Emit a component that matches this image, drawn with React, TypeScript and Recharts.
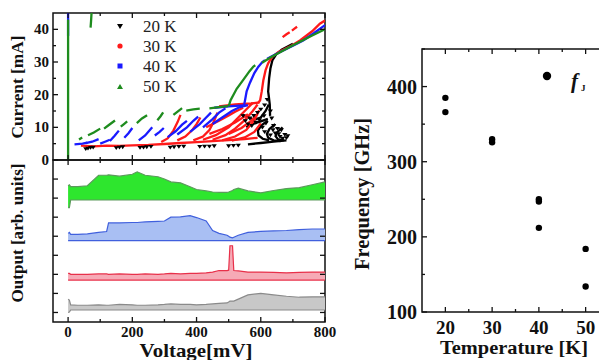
import React from "react";
import { ComposedChart, Line, Area, Scatter, XAxis, YAxis, ReferenceArea } from "recharts";

const SERIF = "'Liberation Serif', 'Times New Roman', serif";

// I-V branches, [voltage mV, current mA]
const iv20: number[][][] = [
  [[560, 4.8], [600, 5.2], [640, 5.6], [680, 6]],
  [[540, 14], [560, 13], [580, 12.4], [600, 13], [615, 15], [625, 17]],
  [[555, 10], [580, 11.2], [600, 11.8], [622, 12.6]],
  [[622, 12], [602, 10.6], [591, 9], [593, 7.5], [606, 6.5], [626, 6]],
  [[645, 11], [627, 9.5], [619, 8], [623, 6.8], [640, 6], [662, 5.8]],
  [[668, 10], [652, 8.6], [646, 7.3], [654, 6.3], [672, 6]],
  [[629, 13.5], [628, 17], [625, 19.5], [623, 21], [626, 25], [630, 28], [636, 30.5], [648, 32.3], [665, 33.8], [700, 35.6]],
];
// scattered 20 K points (low-current trail and the hysteresis cloud)
const iv20Dots: number[][] = [
  [55, 3.4], [62, 3.6], [70, 3.8], [78, 3.9], [150, 3.7], [160, 3.9], [170, 4], [224, 3.8], [235, 3.9], [245, 4],
  [258, 4.1], [318, 3.9], [330, 4], [345, 4.1], [360, 4.2], [410, 4.1], [425, 4.2], [440, 4.2], [455, 4.3], [500, 4.3],
  [515, 4.4], [530, 4.5], [545, 13.5], [552, 12], [560, 11], [566, 12.8], [572, 10.5], [578, 13.6], [585, 11.5],
  [590, 14.5], [596, 12.2], [600, 15.5], [605, 10], [610, 13.5], [612, 16.8], [616, 11.2], [620, 18.5], [630, 15],
  [634, 12.8], [640, 10.5], [645, 8.2], [652, 9.6], [660, 7.2], [668, 6.6], [675, 7.8], [680, 6.8],
  [612, 8.6], [630, 7.6], [638, 9.2], [656, 8], [664, 9.2], [684, 7.4],
];

const iv30: number[][][] = [
  [[40, 4.4], [80, 4.2], [120, 4.4], [160, 4.3], [200, 4.5], [250, 4.6], [300, 4.9], [350, 5.2], [400, 5.5], [450, 5.8], [500, 6.1], [550, 6.4], [590, 6.8]],
  [[290, 5.5], [310, 6.6], [328, 9], [341, 11.6], [350, 13.8]],
  [[340, 6], [365, 7.2], [385, 9], [400, 11], [412, 13]],
  [[390, 6], [420, 7.2], [440, 9.2], [455, 12], [465, 14.5]],
  [[420, 6.2], [460, 7.6], [500, 10], [530, 13], [560, 16], [575, 17.5]],
  [[440, 8], [480, 9.5], [520, 11.5], [560, 14]],
  [[450, 6.2], [490, 7.6], [520, 9.6], [550, 12.2], [575, 15], [590, 17]],
  [[500, 8], [540, 9.8], [570, 12], [590, 14]],
  [[480, 6], [520, 7.2], [555, 9.2], [580, 12.2], [595, 15.2]],
  [[510, 5.9], [550, 6.9], [580, 8.6], [600, 11.2]],
  [[430, 10], [470, 12], [500, 13.6], [520, 14.8], [545, 16]],
  [[470, 16.4], [520, 17], [570, 17.3], [595, 17.6]],
  [[592, 17.4], [598, 18.3], [603, 21], [608, 24.4], [615, 27.5], [623, 29.6], [635, 31.5], [654, 33], [690, 34.7], [722, 36.6], [760, 39.4], [784, 41.7], [800, 42.7]],
  [[668, 37.6], [680, 38.5], [690, 39.1]],
  [[697, 39.6], [705, 40.2], [713, 40.8]],
];

const iv40: number[][][] = [
  [[0, 38], [0, 45]],
  [[20, 4.8], [45, 5], [60, 5.3]],
  [[55, 5.2], [75, 5.6], [95, 6.4]],
  [[100, 5], [115, 5.6], [130, 6.2]],
  [[130, 5.8], [145, 7.4], [158, 9]],
  [[175, 6.8], [188, 8.2], [200, 9.8]],
  [[220, 6], [240, 7.5], [262, 10]],
  [[270, 7.5], [285, 8.6], [298, 9.8]],
  [[310, 7], [335, 8.8], [355, 10.8], [370, 12]],
  [[340, 7.8], [370, 10], [390, 12], [405, 13.3]],
  [[380, 8.6], [410, 11], [430, 13], [445, 14.5]],
  [[420, 10], [450, 12.5], [470, 14.5], [490, 15.8]],
  [[450, 11], [480, 13], [510, 15], [535, 16.2], [560, 16.8]],
  [[455, 16], [500, 16.4], [545, 16.7]],
  [[548, 16.8], [551, 18.3], [556, 21], [566, 23.6], [580, 26.6], [592, 28.5], [605, 30], [613, 30.6]],
  [[620, 31], [645, 32.3], [670, 33.5], [700, 35], [732, 36.6], [765, 38.8], [800, 41.3]],
];

const iv50: number[][][] = [
  [[0, 0], [0, 43]],
  [[70, 40.5], [71.5, 42.5], [73, 45]],
  [[34, 6.3], [44, 6.9]],
  [[62, 7.6], [80, 8.4], [100, 9.6]],
  [[112, 9.6], [128, 10.8], [146, 12.1]],
  [[164, 10.2], [174, 11], [184, 11.8]],
  [[214, 11.3], [230, 12.7], [246, 13.7]],
  [[278, 12.2], [288, 13.4], [296, 14.6]],
  [[328, 13.8], [342, 14.9], [355, 15.9]],
  [[368, 15.1], [390, 15.5], [410, 15.7]],
  [[440, 15.8], [470, 16.2], [498, 16.5]],
  [[500, 16.4], [506, 18.3], [525, 21.8], [546, 24.6], [565, 27.2], [577, 28.6], [583, 29]],
  [[604, 29.8], [630, 31.4], [660, 33], [690, 34.6], [722, 36.2], [760, 38.1], [800, 40]],
];

const ivSeries = [
  { name: "20 K", color: "#000000", branches: iv20 },
  { name: "30 K", color: "#ff1a1a", branches: iv30 },
  { name: "40 K", color: "#1a1aff", branches: iv40 },
  { name: "50 K", color: "#1e8c1e", branches: iv50 },
];

// output traces (arb. units, stacked), sampled on a common voltage grid
const outV = [0, 4, 8, 30, 60, 95, 120, 126, 160, 200, 215, 240, 280, 300, 320, 350, 380, 400, 430, 450, 470, 495, 500, 504, 512, 516, 530, 560, 600, 640, 680, 720, 760, 800];
const greenLo = [6.0, 6.0, 6.4, 6.4, 6.4, 6.4, 6.4, 6.4, 6.4, 6.4, 6.4, 6.4, 6.4, 6.4, 6.4, 6.4, 6.4, 6.4, 6.4, 6.4, 6.4, 6.4, 6.4, 6.4, 6.4, 6.4, 6.4, 6.4, 6.4, 6.4, 6.4, 6.4, 6.4, 6.4];
const greenHi = [7.15, 7.2, 7.1, 7.1, 7.15, 7.7, 7.7, 7.72, 7.65, 7.75, 7.88, 7.7, 7.62, 7.5, 7.35, 7.3, 7.1, 6.95, 6.88, 6.82, 6.8, 6.8, 6.82, 6.85, 6.9, 6.95, 7.02, 6.88, 6.78, 6.9, 7.0, 7.05, 7.2, 7.35];
const blueLo = [4.27, 4.27, 4.27, 4.27, 4.27, 4.27, 4.27, 4.27, 4.27, 4.27, 4.27, 4.27, 4.27, 4.27, 4.27, 4.27, 4.27, 4.27, 4.27, 4.27, 4.27, 4.27, 4.27, 4.27, 4.27, 4.27, 4.27, 4.27, 4.27, 4.27, 4.27, 4.27, 4.27, 4.27];
const blueHi = [4.65, 4.7, 4.6, 4.6, 4.62, 4.7, 4.75, 5.2, 5.2, 5.22, 5.22, 5.25, 5.28, 5.3, 5.5, 5.52, 5.58, 5.48, 5.3, 4.8, 4.65, 4.55, 4.5, 4.45, 4.42, 4.45, 4.55, 4.7, 4.75, 4.78, 4.8, 4.85, 4.88, 4.88];
const redLo = [2.2, 2.2, 2.2, 2.2, 2.2, 2.2, 2.2, 2.2, 2.2, 2.2, 2.2, 2.2, 2.2, 2.2, 2.2, 2.2, 2.2, 2.2, 2.2, 2.2, 2.2, 2.2, 2.2, 2.2, 2.2, 2.2, 2.2, 2.2, 2.2, 2.2, 2.2, 2.2, 2.2, 2.2];
const redHi = [2.55, 2.55, 2.5, 2.5, 2.5, 2.52, 2.52, 2.5, 2.52, 2.5, 2.5, 2.52, 2.5, 2.52, 2.55, 2.52, 2.55, 2.55, 2.58, 2.62, 2.7, 2.7, 2.72, 4.0, 4.0, 2.7, 2.68, 2.62, 2.62, 2.6, 2.58, 2.6, 2.62, 2.62];
const grayLo = [0.5, 0.52, 0.63, 0.63, 0.63, 0.63, 0.63, 0.63, 0.63, 0.63, 0.63, 0.63, 0.63, 0.63, 0.63, 0.63, 0.63, 0.63, 0.63, 0.63, 0.63, 0.63, 0.63, 0.63, 0.63, 0.63, 0.63, 0.63, 0.63, 0.63, 0.63, 0.63, 0.63, 0.63];
const grayHi = [1.2, 1.15, 0.9, 0.88, 0.88, 0.9, 0.88, 0.88, 0.92, 0.9, 0.88, 0.88, 0.9, 0.92, 0.95, 0.92, 0.92, 0.9, 0.92, 0.95, 0.98, 1.0, 1.05, 1.1, 1.1, 1.1, 1.2, 1.42, 1.5, 1.42, 1.35, 1.3, 1.32, 1.32];

// Josephson frequency vs temperature
const fjT = [20, 20, 30, 30, 40, 40, 40, 50, 50];
const fjF = [385, 366, 330, 326, 250, 247, 212, 184, 134];

const voltTicks = [0, 100, 200, 300, 400, 500, 600, 700, 800];
const currentTicks = [0, 5, 10, 15, 20, 25, 30, 35, 40];
const outTicks = [0.5, 1.5, 2.5, 3.5, 4.5, 5.5, 6.5, 7.5];
const tempTicks = [20, 25, 30, 35, 40, 45, 50, 55];
const freqTicks = [100, 150, 200, 250, 300, 350, 400, 450];

const outRows = outV.map((v, i) => ({
  v,
  g: [greenLo[i], greenHi[i]],
  b: [blueLo[i], blueHi[i]],
  r: [redLo[i], redHi[i]],
  k: [grayLo[i], grayHi[i]],
}));
const fjPoints = fjT.map((t, i) => ({ t, f: fjF[i] }));

type TickOpts = {
  far: number;
  isMajor: (v: number) => boolean;
  label: boolean;
  fontSize: number;
  gap: number;
};

const tickLine = { stroke: "#111", strokeWidth: 1.3 };

function bottomTick(o: TickOpts) {
  return (p: any) => {
    const v = p.payload.value as number;
    const major = o.isMajor(v);
    const len = major ? 5 : 3;
    return (
      <g>
        <line x1={p.x} x2={p.x} y1={p.y} y2={p.y - len} {...tickLine} />
        <line x1={p.x} x2={p.x} y1={o.far} y2={o.far + len} {...tickLine} />
        {o.label && major ? (
          <text x={p.x} y={p.y + o.gap} textAnchor="middle" fontFamily={SERIF} fontWeight="bold" fontSize={o.fontSize} fill="#111">
            {v}
          </text>
        ) : null}
      </g>
    );
  };
}

function leftTick(o: TickOpts) {
  return (p: any) => {
    const v = p.payload.value as number;
    const major = o.isMajor(v);
    const len = major ? 5 : 3;
    return (
      <g>
        <line x1={p.x} x2={p.x + len} y1={p.y} y2={p.y} {...tickLine} />
        <line x1={o.far} x2={o.far - len} y1={p.y} y2={p.y} {...tickLine} />
        {o.label && major ? (
          <text x={p.x - o.gap} y={p.y} dominantBaseline="central" textAnchor="end" fontFamily={SERIF} fontWeight="bold" fontSize={o.fontSize} fill="#111">
            {v}
          </text>
        ) : null}
      </g>
    );
  };
}

function IvPanel() {
  return (
    <ComposedChart width={340} height={170} margin={{ top: 13, right: 15, bottom: 0, left: 13 }}>
      <XAxis
        type="number"
        dataKey="v"
        domain={[-47, 800]}
        ticks={voltTicks}
        interval={0}
        height={10}
        tickSize={0}
        tickMargin={0}
        axisLine={false}
        tickLine={false}
        allowDataOverflow
        tick={bottomTick({ far: 13, isMajor: (v) => v % 200 === 0, label: false, fontSize: 15, gap: 0 })}
      />
      <YAxis
        type="number"
        dataKey="i"
        domain={[0, 45]}
        ticks={currentTicks}
        interval={0}
        width={40}
        tickSize={0}
        tickMargin={0}
        axisLine={false}
        tickLine={false}
        allowDataOverflow
        tick={leftTick({ far: 325, isMajor: (v) => v % 10 === 0, label: true, fontSize: 15, gap: 4 })}
      />
      <ReferenceArea x1={-47} x2={800} y1={0} y2={45} fill="none" stroke="#111" strokeWidth={1.5} />
      <Scatter
        data={iv20Dots.map(([v, i]) => ({ v, i }))}
        isAnimationActive={false}
        shape={(p: any) => <path d={`M${p.cx - 2.6} ${p.cy - 1.6} L${p.cx + 2.6} ${p.cy - 1.6} L${p.cx} ${p.cy + 2.2} Z`} fill="#000" />}
      />
      {ivSeries.flatMap((s) =>
        s.branches.map((b, j) => (
          <Line
            key={`${s.name}-${j}`}
            data={b.map(([v, i]) => ({ v, i }))}
            dataKey="i"
            type="linear"
            stroke={s.color}
            strokeWidth={2.3}
            dot={false}
            isAnimationActive={false}
          />
        ))
      )}
    </ComposedChart>
  );
}

function OutputPanel() {
  return (
    <ComposedChart width={340} height={202} data={outRows} margin={{ top: 2, right: 15, bottom: 0, left: 13 }}>
      <XAxis
        type="number"
        dataKey="v"
        domain={[-47, 800]}
        ticks={voltTicks}
        interval={0}
        height={38}
        tickSize={0}
        tickMargin={0}
        axisLine={false}
        tickLine={false}
        allowDataOverflow
        tick={bottomTick({ far: 2, isMajor: (v) => v % 200 === 0, label: true, fontSize: 15, gap: 15 })}
      />
      <YAxis
        type="number"
        domain={[0, 8.5]}
        ticks={outTicks}
        interval={0}
        width={40}
        tickSize={0}
        tickMargin={0}
        axisLine={false}
        tickLine={false}
        allowDataOverflow
        tick={leftTick({ far: 325, isMajor: () => true, label: false, fontSize: 15, gap: 4 })}
      />
      <ReferenceArea x1={-47} x2={800} y1={0} y2={8.5} fill="none" stroke="#111" strokeWidth={1.5} />
      <Area dataKey="k" type="linear" fill="#c8c8c8" fillOpacity={1} stroke="#8a8a8a" strokeWidth={1.2} isAnimationActive={false} />
      <Area dataKey="r" type="linear" fill="#f6aab6" fillOpacity={1} stroke="#e8304a" strokeWidth={1.2} isAnimationActive={false} />
      <Area dataKey="b" type="linear" fill="#a9bff3" fillOpacity={1} stroke="#4060dd" strokeWidth={1.2} isAnimationActive={false} />
      <Area dataKey="g" type="linear" fill="#2ee62e" fillOpacity={1} stroke="#5c9a5c" strokeWidth={1.2} isAnimationActive={false} />
    </ComposedChart>
  );
}

function FjPanel() {
  return (
    <ComposedChart width={269} height={360} margin={{ top: 49, right: 0, bottom: 0, left: 0 }}>
      <XAxis
        type="number"
        dataKey="t"
        domain={[15, 55]}
        ticks={tempTicks}
        interval={0}
        height={48}
        tickSize={0}
        tickMargin={0}
        axisLine={false}
        tickLine={false}
        allowDataOverflow
        tick={bottomTick({ far: 49, isMajor: (v) => v % 10 === 0, label: true, fontSize: 19, gap: 22 })}
      />
      <YAxis
        type="number"
        dataKey="f"
        domain={[100, 450]}
        ticks={freqTicks}
        interval={0}
        width={82}
        tickSize={0}
        tickMargin={0}
        axisLine={false}
        tickLine={false}
        allowDataOverflow
        tick={leftTick({ far: 269, isMajor: (v) => v % 100 === 0, label: true, fontSize: 20, gap: 5 })}
      />
      <ReferenceArea x1={15} x2={55} y1={100} y2={450} fill="none" stroke="#111" strokeWidth={1.5} />
      <Scatter
        data={fjPoints}
        fill="#000"
        isAnimationActive={false}
        shape={(p: any) => <circle cx={p.cx} cy={p.cy} r={3.2} fill="#000" />}
      />
    </ComposedChart>
  );
}

function Labels() {
  const bold = { fontFamily: SERIF, fontWeight: "bold" as const, fill: "#111" };
  return (
    <svg width={599} height={360} style={{ position: "absolute", left: 0, top: 0, pointerEvents: "none" }}>
      <text x={17} y={87} transform="rotate(-90 17 87)" textAnchor="middle" dominantBaseline="central" fontSize={16} textLength={103} lengthAdjust="spacingAndGlyphs" {...bold}>
        Current [mA]
      </text>
      <text x={17} y={233} transform="rotate(-90 17 233)" textAnchor="middle" dominantBaseline="central" fontSize={16} textLength={139} lengthAdjust="spacingAndGlyphs" {...bold}>
        Output [arb. units]
      </text>
      <text x={196} y={357} textAnchor="middle" fontSize={19} textLength={113} lengthAdjust="spacingAndGlyphs" {...bold}>
        Voltage[mV]
      </text>
      <text x={362} y={194} transform="rotate(-90 362 194)" textAnchor="middle" dominantBaseline="central" fontSize={20} textLength={152} lengthAdjust="spacingAndGlyphs" {...bold}>
        Frequency [GHz]
      </text>
      <text x={514} y={354} textAnchor="middle" fontSize={18} textLength={148} lengthAdjust="spacingAndGlyphs" {...bold}>
        Temperature [K]
      </text>

      {/* legend, left panel */}
      <path d="M117 24 L123 24 L120 29 Z" fill="#000" />
      <circle cx={120} cy={46} r={2.6} fill="#ff1a1a" />
      <rect x={117.5} y={63.5} width={5} height={5} fill="#1a1aff" />
      <path d="M117 89 L123 89 L120 84 Z" fill="#1e8c1e" />
      {ivSeries.map((s, i) => (
        <text key={s.name} x={143} y={26 + i * 20} dominantBaseline="central" fontFamily={SERIF} fontSize={17} fill="#222">
          {s.name}
        </text>
      ))}

      {/* legend, right panel */}
      <circle cx={547} cy={76} r={4.2} fill="#000" />
      <text x={571} y={88} fontFamily={SERIF} fontStyle="italic" fontWeight="bold" fontSize={21} fill="#111">
        f
      </text>
      <text x={581} y={91} fontFamily={SERIF} fontWeight="bold" fontSize={9} fill="#111">
        J
      </text>
    </svg>
  );
}

export default function App() {
  return (
    <div style={{ position: "absolute", left: 0, top: 0, width: 599, height: 360, overflow: "hidden", background: "#fff" }}>
      <div style={{ position: "absolute", left: 0, top: 0 }}>
        <IvPanel />
      </div>
      <div style={{ position: "absolute", left: 0, top: 158 }}>
        <OutputPanel />
      </div>
      <div style={{ position: "absolute", left: 340, top: 0 }}>
        <FjPanel />
      </div>
      <Labels />
    </div>
  );
}
